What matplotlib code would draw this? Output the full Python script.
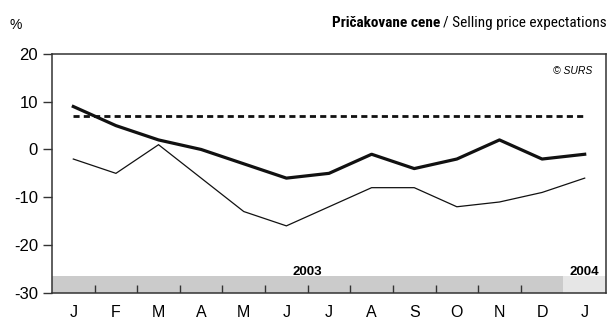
import matplotlib
matplotlib.use("Agg")
from matplotlib import pyplot as plt
from matplotlib import font_manager
import numpy as np

plt.rcParams['font.family'] = ['Liberation Sans', 'DejaVu Sans']

# months Jan 2003 .. Jan 2004
months = ['J', 'F', 'M', 'A', 'M', 'J', 'J', 'A', 'S', 'O', 'N', 'D', 'J']
expect_main = [9, 5, 2, 0, -3, -6, -5, -1, -4, -2, 2, -2, -1]
expect_thin = [-2, -5, 1, -6, -13, -16, -12, -8, -8, -12, -11, -9, -6]
long_avg = 7
years = ['2003', '2004']
yticks = [20, 10, 0, -10, -20, -30]

# pick a narrow face for the heading if one is installed
installed = {f.name for f in font_manager.fontManager.ttflist}
narrow = [n for n in ('Liberation Sans Narrow', 'DejaVu Sans Condensed',
                      'Roboto Condensed', 'Noto Sans Condensed',
                      'Open Sans Condensed') if n in installed]
head_family = narrow[:1] + ['Liberation Sans', 'DejaVu Sans']
head_size = 11 if narrow else 9.5

x = np.arange(len(months))

fig = plt.figure(figsize=(6.09, 3.2), dpi=100)
ax = fig.add_axes([52 / 609, 1 - 292.7 / 320, 554 / 609, (292.7 - 54) / 320])

ax.plot(x, expect_thin, color='#111111', lw=0.9, solid_joinstyle='miter')
ax.plot(x, expect_main, color='#111111', lw=2.3, solid_joinstyle='round')
ax.plot([x[0], x[-1]], [long_avg, long_avg], color='#111111', lw=2.0,
        dashes=(2.2, 1.5))

# year band along the bottom
ax.fill_between([-0.5, 11.5], -30, -26.5, color='#cbcbcb', lw=0, zorder=0)
ax.fill_between([11.5, 12.5], -30, -26.5, color='#e6e6e6', lw=0, zorder=0)
ax.text(5.5, -26.2, years[0], ha='center', va='baseline', fontsize=9.5,
        fontweight='bold')
ax.text(12.0, -26.2, years[1], ha='center', va='baseline', fontsize=9.5,
        fontweight='bold')
ax.vlines(np.arange(0.5, 11, 1), -30, -28.3, color='#333333', lw=1.0)

ax.set_xlim(-0.5, 12.5)
ax.set_ylim(-30, 20)
ax.set_xticks(x)
ax.set_xticklabels(months)
ax.set_yticks(yticks)
ax.set_yticklabels([str(v) for v in yticks])
ax.tick_params(axis='x', length=0, pad=9, labelsize=11.5)
ax.tick_params(axis='y', length=6.5, width=1.0, pad=3.5, labelsize=12,
               color='#333333')
for s in ax.spines.values():
    s.set_color('#333333')
    s.set_linewidth(1.1)

ax.text(0.975, 0.93, '© SURS', transform=ax.transAxes, ha='right',
        va='center', fontsize=7.5, style='italic')

fig.text(16 / 609, 1 - 25 / 320, '%', ha='center', va='center', fontsize=10)

sub = fig.text(607 / 609, 1 - 27 / 320, '/ Selling price expectations',
               ha='right', va='baseline', fontsize=head_size,
               family=head_family)
ax.annotate('Pričakovane cene ', xy=(0, 0), xycoords=sub, ha='right',
            va='bottom', fontsize=head_size, fontweight='bold',
            family=head_family, annotation_clip=False)

fig.savefig('out.png', dpi=100)
